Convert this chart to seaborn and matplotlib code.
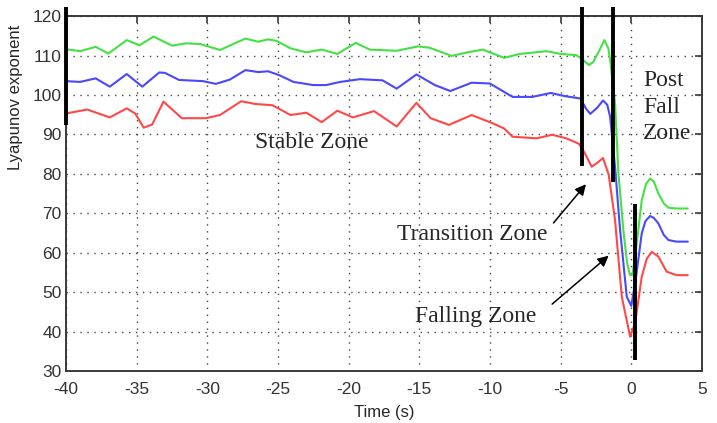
import numpy as np
import pandas as pd
import seaborn as sns
import matplotlib
matplotlib.use("Agg")
import matplotlib.pyplot as plt

# values
green_t = [-40.0, -39.0, -37.9, -37.0, -35.7, -34.8, -33.8, -32.5, -31.5, -30.5, -29.1, -27.3, -26.4, -25.7,
           -25.1, -24.1, -23.0, -21.9, -20.8, -19.5, -18.5, -16.6, -15.1, -14.3, -12.7, -11.6, -10.5, -9.0,
           -7.9, -6.0, -5.0, -3.9, -3.55, -3.0, -2.7, -2.3, -1.9, -1.62, -1.45, -1.15, -0.91, -0.56, -0.3,
           -0.1, 0.08, 0.39, 0.74, 1.05, 1.33, 1.6, 1.92, 2.3, 2.63, 3.2, 4.0]
green_v = [111.6, 111.1, 112.2, 110.5, 113.9, 112.6, 114.8, 112.5, 113.1, 112.9, 111.4, 114.3, 113.5, 114.1,
           113.7, 111.8, 110.8, 111.5, 110.4, 113.2, 111.5, 111.2, 112.3, 112.0, 109.9, 110.8, 111.5, 109.4,
           110.4, 111.1, 110.4, 110.1, 109.3, 107.6, 108.3, 111.0, 113.9, 111.8, 107.6, 97.9, 80.1, 65.7, 57.5,
           54.4, 54.3, 62.4, 73.3, 77.5, 78.8, 78.0, 75.0, 72.5, 71.4, 71.2, 71.2]

blue_t = [-40.0, -39.0, -37.9, -36.9, -35.7, -34.6, -33.4, -33.0, -32.0, -30.3, -29.4, -28.4, -27.3, -26.4,
          -25.7, -24.9, -23.9, -22.5, -21.6, -20.6, -19.2, -17.6, -16.6, -15.2, -13.9, -12.8, -11.3, -10.0,
          -8.4, -7.0, -5.7, -4.7, -3.6, -3.2, -2.9, -2.4, -2.0, -1.7, -1.5, -1.15, -0.79, -0.32, 0.0, 0.34,
          0.74, 1.0, 1.33, 1.6, 1.92, 2.3, 2.63, 3.2, 4.0]
blue_v = [103.5, 103.3, 104.2, 102.1, 105.3, 102.1, 105.7, 105.6, 103.8, 103.5, 102.8, 103.9, 106.3, 105.8,
          106.0, 105.0, 103.3, 102.5, 102.5, 103.3, 104.0, 103.7, 101.6, 105.2, 102.5, 101.0, 103.1, 102.9,
          99.5, 99.5, 100.5, 99.7, 99.1, 96.5, 95.2, 96.8, 98.6, 97.5, 94.5, 81.8, 65.7, 48.8, 46.5, 53.9,
          64.9, 68.0, 69.3, 68.8, 67.4, 64.5, 63.2, 62.8, 62.8]

red_t = [-40.0, -38.5, -36.9, -35.7, -35.1, -34.5, -33.9, -33.1, -31.8, -30.1, -29.1, -27.6, -26.6, -25.4,
         -24.1, -23.0, -21.9, -20.8, -19.7, -18.2, -16.6, -15.2, -14.2, -12.9, -11.3, -9.8, -9.0, -8.4,
         -6.7, -5.6, -4.6, -3.7, -3.3, -2.8, -2.4, -2.0, -1.6, -1.15, -0.67, -0.08, 0.27, 0.74, 1.1, 1.45,
         1.92, 2.5, 3.2, 4.0]
red_v = [95.3, 96.3, 94.3, 96.6, 95.3, 91.7, 92.5, 98.3, 94.1, 94.1, 94.9, 98.4, 97.7, 97.4,
         94.9, 95.5, 93.1, 96.0, 94.3, 95.9, 92.0, 98.0, 94.1, 92.4, 94.9, 92.8, 91.5, 89.4,
         89.0, 89.9, 89.0, 87.6, 85.3, 81.8, 82.8, 84.0, 79.8, 68.3, 48.8, 38.7, 42.1, 53.9, 58.5, 60.2,
         59.0, 55.2, 54.3, 54.3]

# thick black zone markers
zone_x = [-40.0, -3.5, -1.3, 0.27]
zone_top = [122.3, 122.3, 122.3, 72.3]
zone_bottom = [92.3, 82.0, 77.9, 32.7]

x_ticks = list(range(-40, 6, 5))
y_ticks = list(range(30, 121, 10))

sns.set_style("white")
plt.rcParams['font.family'] = ['Liberation Sans', 'DejaVu Sans']
plt.rcParams['axes.unicode_minus'] = False

fig, ax = plt.subplots(figsize=(7.17, 4.23), dpi=100)
fig.subplots_adjust(left=0.092, right=0.979, bottom=0.123, top=0.962)

for t, v, c in [(green_t, green_v, '#44e044'), (blue_t, blue_v, '#4848ff'), (red_t, red_v, '#ff4848')]:
    df = pd.DataFrame({'t': t, 'v': v})
    sns.lineplot(data=df, x='t', y='v', color=c, lw=1.5, ax=ax, sort=False)

ax.vlines(zone_x, zone_bottom, zone_top, colors='black', lw=2.8, clip_on=False, zorder=5)

ax.set_xlim(-40, 5)
ax.set_ylim(30, 120)
ax.set_xticks(x_ticks)
ax.set_yticks(y_ticks)
ax.grid(True, linestyle=(0, (1, 4)), color='#444444', lw=1.0)
for s in ax.spines.values():
    s.set_visible(True)
    s.set_color('#3a3a3a')
    s.set_linewidth(1.4)
ax.tick_params(direction='in', length=5, width=1.2, color='#3a3a3a', top=True, right=True,
               labelsize=12.5, labelcolor='#333333', pad=3)
ax.tick_params(axis='x', pad=8)

ax.set_xlabel('Time (s)', fontsize=12, labelpad=6)
ax.set_ylabel('Lyapunov exponent', fontsize=12)
ax.yaxis.set_label_coords(-0.068, 0.77)

serif = ['Liberation Serif', 'DejaVu Serif']
ax.text(-26.6, 88.0, 'Stable Zone', family=serif, fontsize=17, ha='left', va='center')
ax.text(-11.27, 64.5, 'Transition Zone', family=serif, fontsize=17, ha='center', va='center')
ax.text(-10.98, 43.7, 'Falling Zone', family=serif, fontsize=17, ha='center', va='center')
ax.text(0.84, 96.9, 'Post\nFall\nZone', family=serif, fontsize=17, ha='left', va='center', linespacing=1.35)

arrow = dict(arrowstyle='-|>', color='black', lw=1.1, mutation_scale=16)
ax.annotate('', xy=(-3.08, 77.9), xytext=(-5.63, 67.0), arrowprops=arrow)
ax.annotate('', xy=(-1.45, 59.7), xytext=(-5.75, 46.5), arrowprops=arrow)

plt.savefig('out.png', dpi=100)
